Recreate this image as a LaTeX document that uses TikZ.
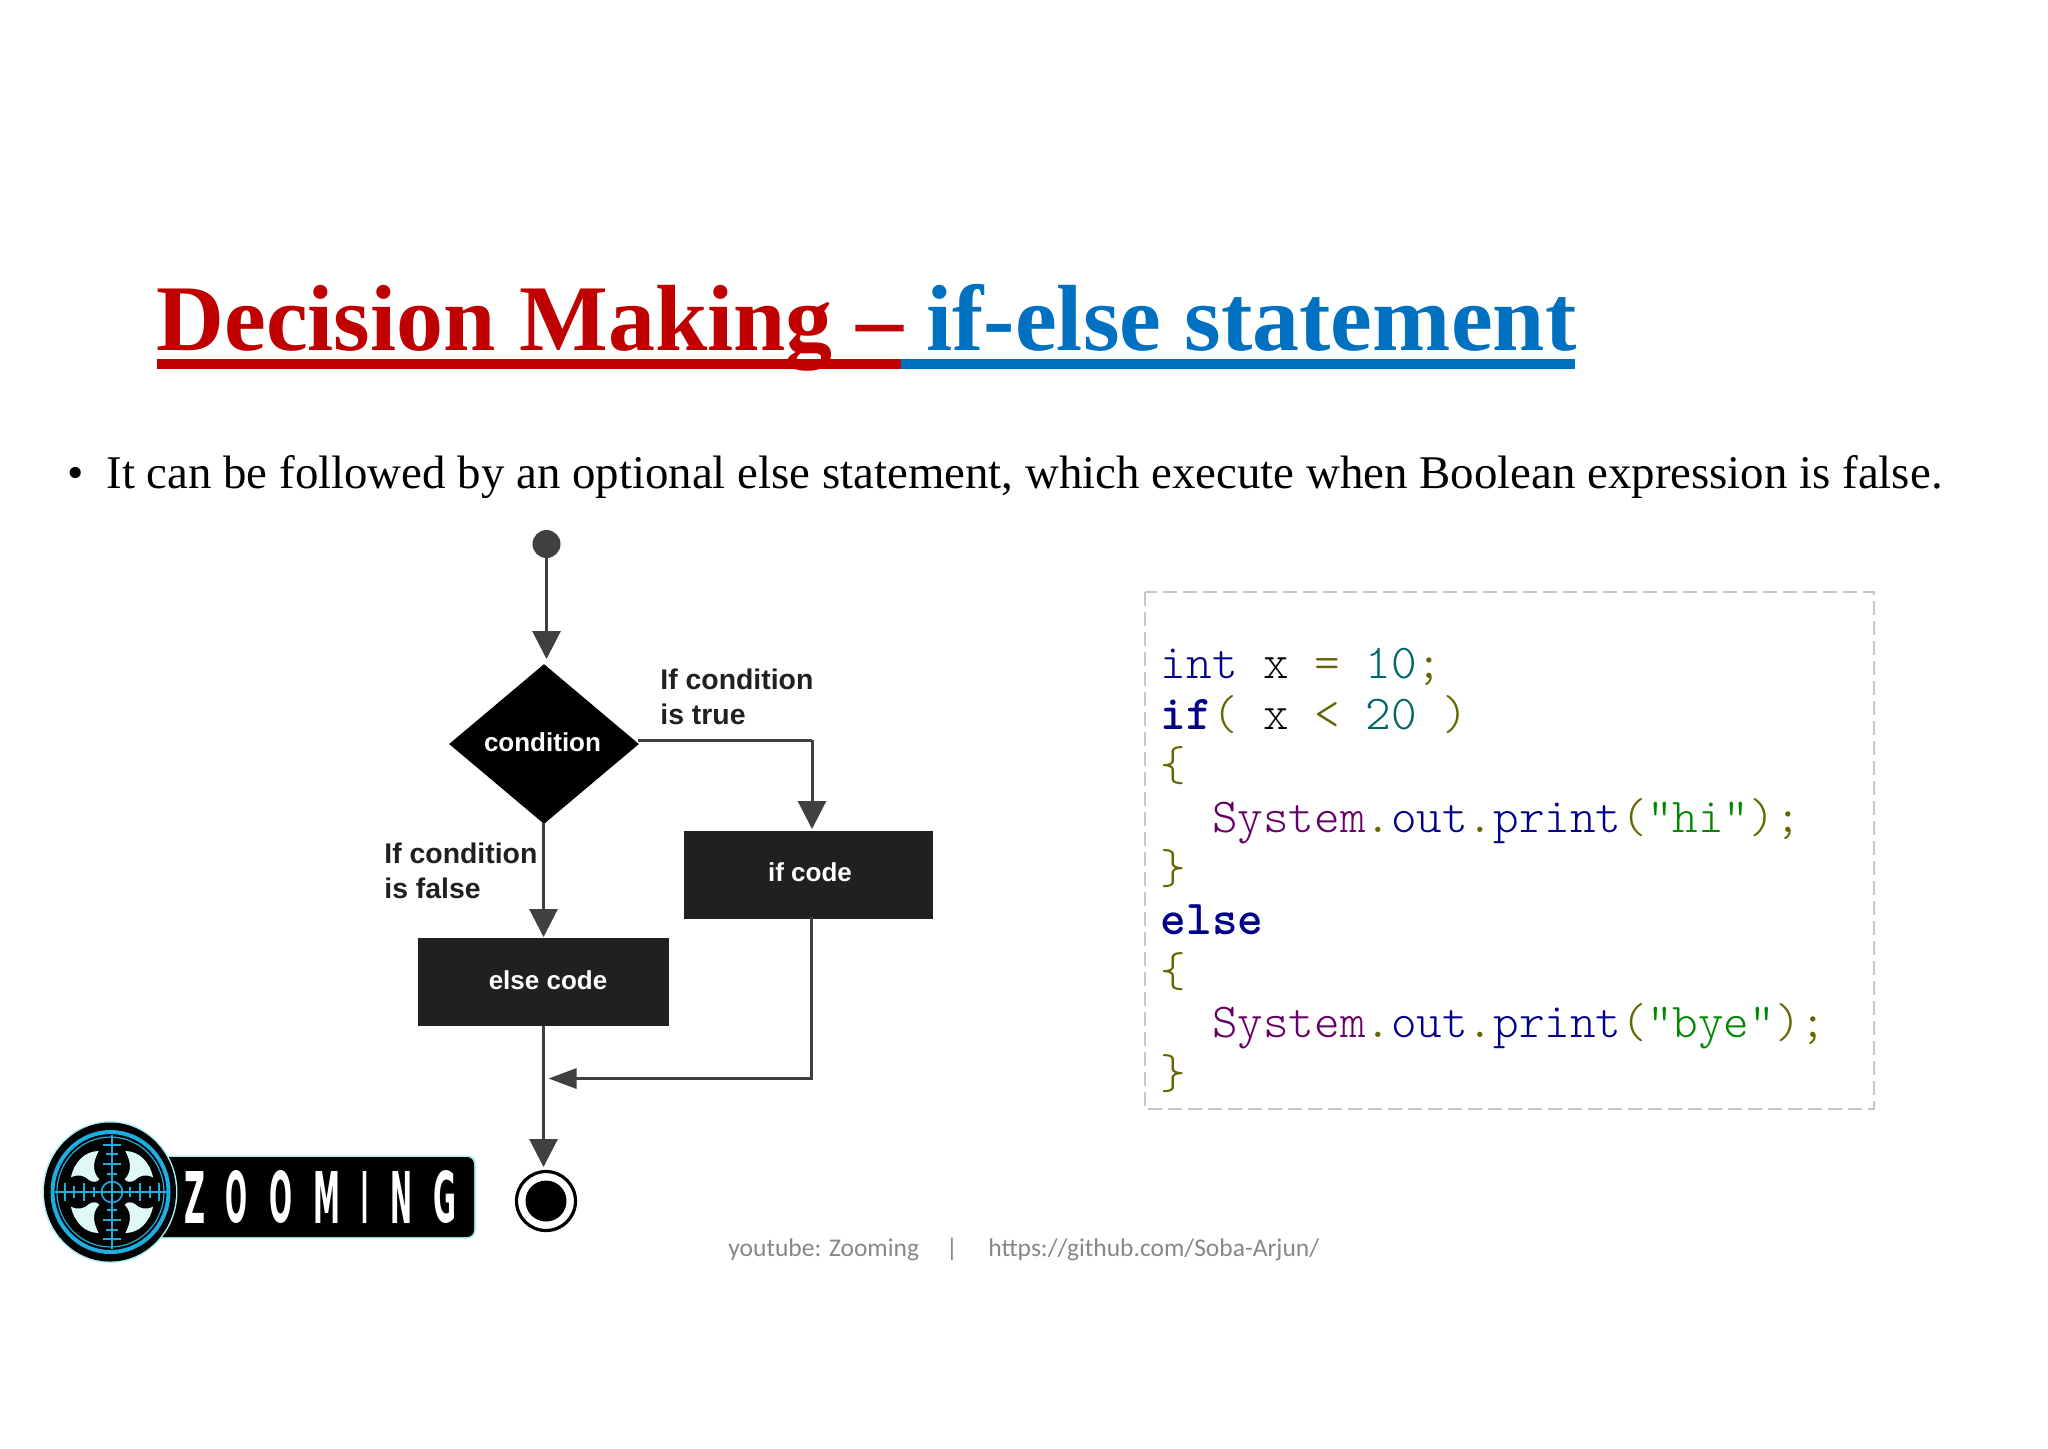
\documentclass[tikz,border=0pt]{standalone}
\usepackage{fontspec}
\usetikzlibrary{shapes.geometric,arrows.meta}
\setmainfont{Liberation Serif}
\newfontfamily\flowfont{Liberation Sans}
\newfontfamily\logofont{DejaVu Sans}
\newfontfamily\footfont{Carlito}
\definecolor{titlered}{HTML}{C00000}
\definecolor{titleblue}{HTML}{0070C0}
\definecolor{flowgrey}{HTML}{404040}
\definecolor{boxblack}{HTML}{202020}
\definecolor{kwd}{HTML}{000088}
\definecolor{typ}{HTML}{660066}
\definecolor{strg}{HTML}{008800}
\definecolor{pun}{HTML}{666600}
\definecolor{lit}{HTML}{006666}
\definecolor{logoblue}{HTML}{1CAFE0}
\definecolor{logoglow}{HTML}{A8F0F4}
\definecolor{wing}{HTML}{DFF9F9}
\tikzset{
  x=0.5pt,y=-0.5pt,
  flowline/.style={draw=flowgrey,line width=1.5pt},
  flowarrow/.style={flowline,-{Triangle[length=14pt,width=14pt,fill=flowgrey]},shorten >=0pt},
  codebox/.style={fill=boxblack,draw=none,inner sep=0pt},
  boxtext/.style={anchor=base,inner sep=0pt,text=white,font=\flowfont\bfseries\fontsize{13pt}{16pt}\selectfont},
  flowlabel/.style={anchor=base west,inner sep=0pt,align=left,text=boxblack,font=\flowfont\bfseries\fontsize{14.2pt}{17.3pt}\selectfont},
  codeline/.style={anchor=base west,inner sep=0pt,font=\ttfamily\fontseries{l}\fontsize{24.37pt}{26pt}\selectfont},
  logoletter/.style={inner sep=0pt,text=white,font=\logofont\bfseries\fontsize{36pt}{36pt}\selectfont},
  wingshape/.style={fill=wing,draw=none},
  logoline/.style={draw=logoblue,line width=0.8pt},
  footerstyle/.style={inner sep=0pt,text=black!47,font=\footfont\fontsize{12.75pt}{16pt}\selectfont},
  titlestyle/.style={anchor=base west,inner sep=0pt,font=\bfseries\fontsize{47pt}{50pt}\selectfont},
  bodystyle/.style={inner sep=0pt,font=\fontsize{23.43pt}{26pt}\selectfont},
}
\newcommand{\logoletterat}[4]{\node[logoletter] (#1) at (#2,1197) {\resizebox{#3pt}{26pt}{#4}};}
\newcommand{\kw}[1]{{\fontseries{bx}\selectfont\color{kwd}#1}}
\newcommand{\tp}[1]{{\color{typ}#1}}
\newcommand{\st}[1]{{\color{strg}#1}}
\newcommand{\pn}[1]{{\color{pun}#1}}
\newcommand{\lt}[1]{{\color{lit}#1}}
\newcommand{\pl}[1]{{\color{kwd}#1}}
\begin{document}
\begin{tikzpicture}
\useasboundingbox (0,0) rectangle (2048,1448);
\fill[white] (0,0) rectangle (2048,1448);
% title
\node[titlestyle,text=titlered] (t1) at (156,350.5) {Decision Making –};
\node[titlestyle,text=titleblue] (t2) at (926,350.5) {if-else statement};
\fill[titlered] (157,359) rectangle (901,369);
\fill[titleblue] (901,359) rectangle (1575,369);
% body
\node[bodystyle,anchor=base] (bu) at (76,488.5) {•};
\node[bodystyle,anchor=base west] (body) at (106,488.5) {It can be followed by an optional else statement, which execute when Boolean expression is false.};
% flow
\node[circle,fill=flowgrey,draw=none,minimum size=14pt,inner sep=0pt] (start) at (546.5,544) {};
\node[diamond,fill=black,draw=none,minimum width=95pt,minimum height=80pt,inner sep=0pt,aspect=1.2] (cond) at (544,744) {};
\node[boxtext] (condt) at (542.5,751.5) {condition};
\node[codebox,minimum width=124.5pt,minimum height=44pt] (ifc) at (808.5,875) {};
\node[boxtext] (ifct) at (810,881.5) {if code};
\node[codebox,minimum width=125.5pt,minimum height=44pt] (elc) at (543,982) {};
\node[boxtext] (elct) at (548,989.5) {else code};
\node[circle,draw=black,line width=1.6pt,fill=white,minimum size=29.5pt,inner sep=0pt] (endo) at (546,1201) {};
\node[circle,fill=black,draw=none,minimum size=20.5pt,inner sep=0pt] (endi) at (546,1201) {};
\coordinate (jn) at (548.5,1078.5);
\coordinate (turn1) at (812,740);
\draw[flowarrow] (start) -- (546.5,659);
\draw[flowline] (638,740) -- (turn1);
\draw[flowarrow] (turn1) -- (812,829);
\draw[flowarrow] (543.5,823) -- (543.5,937);
\draw[flowline,-{Triangle[length=14pt,width=10pt,fill=flowgrey]}] (811,917) |- (jn);
\draw[flowarrow] (543.5,1026) -- (543.5,1167);
\node[flowlabel] (ltrue) at (660,724) {If condition\\is true};
\node[flowlabel] (lfalse) at (384,898) {If condition\\is false};
% code panel
\draw[draw=black!22,line width=1pt,dash pattern=on 7pt off 3pt] (1145,592) rectangle (1874,1109);
\node[codeline] (c1) at (1160.5,678) {\pl{int} x \pn{=} \lt{10}\pn{;}};
\node[codeline] (c2) at (1160.5,729.4) {\kw{if}\pn{(} x \pn{<} \lt{20} \pn{)}};
\node[codeline] (c3) at (1160.5,780.7) {\pn{\{}};
\node[codeline] (c4) at (1160.5,832) {\ \ \tp{System}\pn{.}\pl{out}\pn{.}\pl{print}\pn{(}\st{“hi"}\pn{);}};
\node[codeline] (c5) at (1160.5,883.4) {\pn{\}}};
\node[codeline] (c6) at (1160.5,934.7) {\kw{else}};
\node[codeline] (c7) at (1160.5,986) {\pn{\{}};
\node[codeline] (c8) at (1160.5,1037.4) {\ \ \tp{System}\pn{.}\pl{out}\pn{.}\pl{print}\pn{(}\st{“bye"}\pn{);}};
\node[codeline] (c9) at (1160.5,1088.7) {\pn{\}}};
% footer
\node[footerstyle,anchor=base west] (f1) at (728,1256) {youtube: Zooming};
\node[footerstyle,anchor=base] (f2) at (952,1256) {|};
\node[footerstyle,anchor=base west] (f3) at (988,1256) {https://github.com/Soba-Arjun/};
% logo
\fill[logoglow,rounded corners=4pt] (150,1155.5) rectangle (476,1238.5);
\fill[black,rounded corners=3.5pt] (150,1157) rectangle (474,1237);
\fill[logoglow] (110,1192) ellipse [x radius=67.5,y radius=71];
\fill[black] (110,1192) ellipse [x radius=66,y radius=69.5];
\begin{scope}[shift={(112,1192)}]
\foreach \sx/\sy in {1/1,-1/1,1/-1,-1/-1}{
 \fill[wingshape,xscale=\sx,yscale=\sy] (13.3,-41) .. controls (27,-41) and (38,-30) .. (41,-14.7) .. controls (34,-18) and (28,-17) .. (23,-12) .. controls (20,-9.5) and (14,-9.5) .. (12.7,-13) .. controls (18,-18) and (21,-27) .. (13.3,-41) -- cycle;
}
\draw[logoblue,line width=2pt] (-1.5,0) ellipse [x radius=58,y radius=60];
\draw[logoline,line width=0.6pt] (-1.5,0) ellipse [x radius=53.5,y radius=55];
\draw[logoline] (0,0) ellipse [x radius=10.5,y radius=10.5];
\draw[logoline] (-57,0) -- (57,0);
\draw[logoline] (0,-57) -- (0,57);
\foreach \d/\l in {18/5,28/9,38/6,47/9}{
 \draw[logoline] (-\d,-\l) -- (-\d,\l);
 \draw[logoline] (\d,-\l) -- (\d,\l);
 \draw[logoline] (-\l,-\d) -- (\l,-\d);
 \draw[logoline] (-\l,\d) -- (\l,\d);
}
\end{scope}
\logoletterat{z1}{194.5}{10.5}{Z}
\logoletterat{z2}{236}{11}{O}
\logoletterat{z3}{280.5}{11.5}{O}
\logoletterat{z4}{326.5}{13.5}{M}
\logoletterat{z5}{364.5}{3.5}{I}
\logoletterat{z6}{401}{11}{N}
\logoletterat{z7}{444.5}{11.5}{G}
\end{tikzpicture}
\end{document}
